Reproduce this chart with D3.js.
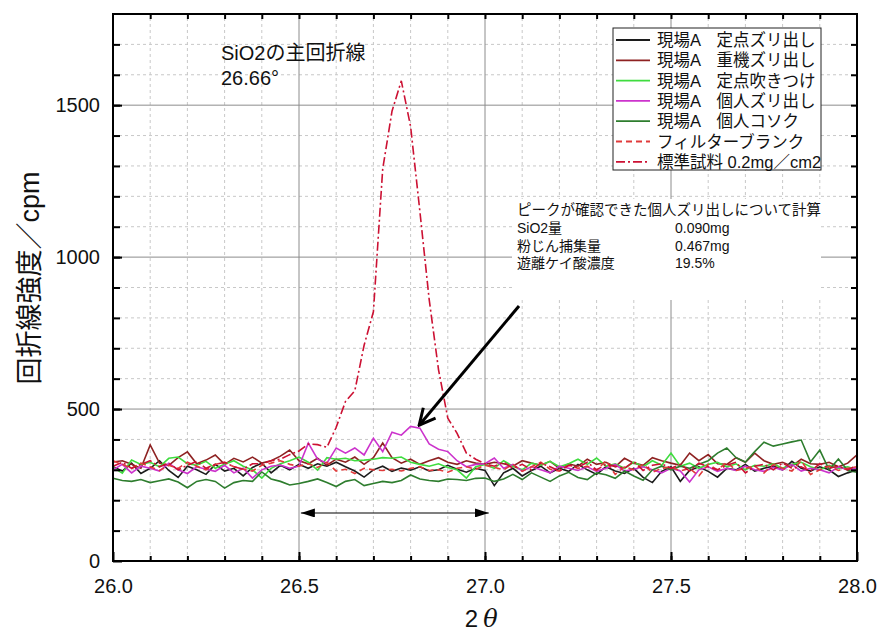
<!DOCTYPE html>
<html>
<head>
<meta charset="utf-8">
<script src="https://cdn.jsdelivr.net/npm/d3@7"></script>
<style>
    body { margin: 0; background: #fff; }
    text { font-family: "Liberation Sans", "Noto Sans CJK JP", sans-serif; }
</style>
</head>
<body>
<div id="chart"></div>
<script>
// 2θ (deg)
const twoTheta = [
    26.000, 26.025, 26.050, 26.075, 26.100, 26.125, 26.150, 26.175, 26.200, 26.225,
    26.250, 26.275, 26.300, 26.325, 26.350, 26.375, 26.400, 26.425, 26.450, 26.475,
    26.500, 26.525, 26.550, 26.575, 26.600, 26.625, 26.650, 26.675, 26.700, 26.725,
    26.750, 26.775, 26.800, 26.825, 26.850, 26.875, 26.900, 26.925, 26.950, 26.975,
    27.000, 27.025, 27.050, 27.075, 27.100, 27.125, 27.150, 27.175, 27.200, 27.225,
    27.250, 27.275, 27.300, 27.325, 27.350, 27.375, 27.400, 27.425, 27.450, 27.475,
    27.500, 27.525, 27.550, 27.575, 27.600, 27.625, 27.650, 27.675, 27.700, 27.725,
    27.750, 27.775, 27.800, 27.825, 27.850, 27.875, 27.900, 27.925, 27.950, 27.975,
    28.000
];

// 回折線強度 (cpm)
const teitenZuri = [
    310, 296, 322, 288, 305, 330, 298, 275, 312, 300,
    285, 318, 296, 305, 280, 308, 322, 290, 315, 300,
    318, 305, 320, 312, 325, 310, 296, 276, 300, 312,
    295, 306, 299, 310, 296, 300, 315, 302, 292, 305,
    298, 248, 290, 305, 280, 298, 312, 290, 305, 295,
    318, 300, 285, 310, 296, 288, 305, 275, 258, 295,
    310, 262, 298, 310, 295, 276, 305, 300, 318, 296,
    305, 312, 300, 328, 305, 296, 310, 300, 278, 290,
    300
];
const juukiZuri = [
    326, 330, 318, 305, 382, 322, 315, 340, 359, 320,
    332, 349, 318, 338, 326, 342, 322, 330, 345, 365,
    330, 320, 338, 315, 335, 325, 342, 318, 340, 388,
    340, 322, 335, 318, 330, 340, 325, 318, 330, 322,
    318, 325, 320, 312, 330, 322, 315, 328, 305, 320,
    312, 335, 318, 325, 310, 338, 322, 315, 340, 330,
    322, 315, 355, 330, 350, 320, 318, 340, 325, 355,
    330, 318, 325, 312, 335, 320, 318, 325, 310, 322,
    349
];
const teitenFuki = [
    309, 289, 332, 318, 325, 310, 338, 342, 320, 315,
    328, 305, 318, 330, 312, 300, 273, 305, 320, 330,
    342, 325, 299, 340, 335, 338, 330, 332, 335, 340,
    338, 342, 325, 318, 312, 320, 308, 300, 273, 310,
    318, 305, 330, 312, 300, 322, 315, 328, 310, 320,
    335, 318, 339, 312, 320, 305, 325, 310, 330, 315,
    355, 312, 322, 305, 318, 325, 310, 320, 300, 315,
    312, 320, 305, 318, 325, 310, 300, 315, 305, 310,
    300
];
const kojinZuri = [
    300, 318, 290, 312, 305, 296, 322, 300, 288, 310,
    302, 295, 315, 290, 305, 273, 300, 312, 316, 305,
    312, 388, 335, 322, 372, 355, 372, 349, 404, 360,
    424, 414, 443, 437, 385, 368, 360, 330, 310, 318,
    320, 339, 305, 318, 296, 310, 300, 290, 312, 305,
    298, 310, 295, 305, 318, 296, 302, 310, 300, 290,
    305, 296, 260, 300, 310, 295, 305, 298, 312, 300,
    295, 308, 300, 318, 296, 305, 300, 290, 310, 300,
    305
];
const kojinKosoku = [
    272, 265, 262, 268, 258, 264, 270, 260, 241, 262,
    268, 262, 240, 258, 265, 262, 293, 270, 262, 250,
    255, 262, 270, 258, 245, 262, 268, 248, 255, 262,
    258, 265, 283, 270, 265, 262, 270, 268, 265, 272,
    273, 262, 270, 285, 268, 290, 276, 262, 280, 292,
    275, 268, 290, 284, 272, 296, 280, 266, 300, 312,
    300, 312, 305, 318, 330, 355, 372, 340, 326, 360,
    391, 378, 385, 392, 398, 326, 365, 300, 336, 298,
    292
];
const filterBlank = [
    330, 318, 305, 322, 310, 298, 315, 305, 325, 312,
    300, 318, 325, 310, 302, 296, 315, 322, 330, 318,
    312, 320, 308, 325, 296, 302, 288, 305, 300, 298,
    302, 296, 305, 310, 298, 300, 292, 305, 310, 302,
    315, 308, 300, 318, 295, 310, 325, 302, 296, 315,
    305, 312, 298, 330, 285, 310, 300, 318, 292, 305,
    310, 296, 305, 280, 318, 300, 325, 298, 305, 312,
    290, 318, 305, 296, 330, 285, 300, 312, 298, 305,
    310
];
const hyoujun = [
    312, 325, 305, 318, 330, 310, 322, 300, 315, 328,
    305, 318, 325, 310, 302, 320, 320, 330, 335, 350,
    362, 385, 383, 374, 440, 525, 560, 710, 820, 1290,
    1480, 1580, 1430, 1150, 860, 630, 470, 420, 355, 335,
    320, 312, 325, 305, 318, 300, 322, 310, 296, 315,
    308, 325, 300, 318, 312, 305, 328, 298, 315, 320,
    305, 318, 296, 322, 310, 300, 315, 325, 290, 312,
    318, 300, 322, 305, 310, 296, 320, 305, 312, 300,
    315
];

const seriesNames = [
    "現場A　定点ズリ出し", "現場A　重機ズリ出し", "現場A　定点吹きつけ",
    "現場A　個人ズリ出し", "現場A　個人コソク", "フィルターブランク", "標準試料 0.2mg／cm2"
];
const seriesValues = [teitenZuri, juukiZuri, teitenFuki, kojinZuri, kojinKosoku, filterBlank, hyoujun];
const seriesColors = ["#1c1c1c", "#8e2222", "#3fdc3f", "#cc33cc", "#2e7d2e", "#e03a3a", "#cc1133"];
const seriesDash = [null, null, null, null, null, "6,4", "9,3,2,3"];

const xTicks = [26.0, 26.5, 27.0, 27.5, 28.0];
const yTicks = [0, 500, 1000, 1500];

const noteLines = [
    ["SiO2量", "0.090mg"],
    ["粉じん捕集量", "0.467mg"],
    ["遊離ケイ酸濃度", "19.5%"]
];

// Chart size
const Width = 878, Height = 635;
const margin = { Top: 14, Right: 21, Bottom: 74, Left: 113 };

const svg = d3.select("#chart").append("svg")
    .attr("width", Width)
    .attr("height", Height);

const xScale = d3.scaleLinear().domain([26, 28]).range([margin.Left, Width - margin.Right]);
const yScale = d3.scaleLinear().domain([0, 1800]).range([Height - margin.Bottom, margin.Top]);

const x0 = margin.Left, x1 = Width - margin.Right;
const y0 = Height - margin.Bottom, y1 = margin.Top;

// minor grid (dashed)
const xMinor = d3.range(26.1, 28, 0.1).filter(v => Math.abs(v * 2 - Math.round(v * 2)) > 0.01);
const yMinor = d3.range(100, 1800, 100).filter(v => v % 500 !== 0);
svg.append("g").selectAll("line").data(xMinor).join("line")
    .attr("x1", d => xScale(d)).attr("x2", d => xScale(d))
    .attr("y1", y0).attr("y2", y1)
    .attr("stroke", "#c8c8c8").attr("stroke-dasharray", "3,3");
svg.append("g").selectAll("line").data(yMinor).join("line")
    .attr("x1", x0).attr("x2", x1)
    .attr("y1", d => yScale(d)).attr("y2", d => yScale(d))
    .attr("stroke", "#c8c8c8").attr("stroke-dasharray", "3,3");

// major grid (solid)
svg.append("g").selectAll("line").data([26.5, 27.0, 27.5]).join("line")
    .attr("x1", d => xScale(d)).attr("x2", d => xScale(d))
    .attr("y1", y0).attr("y2", y1)
    .attr("stroke", "#8c8c8c");
svg.append("g").selectAll("line").data([500, 1000, 1500]).join("line")
    .attr("x1", x0).attr("x2", x1)
    .attr("y1", d => yScale(d)).attr("y2", d => yScale(d))
    .attr("stroke", "#8c8c8c");

// note box (white, hides grid)
svg.append("rect")
    .attr("x", 512).attr("y", 199).attr("width", 309).attr("height", 101)
    .attr("fill", "#fff");

// data lines
const line = d3.line()
    .x((d, i) => xScale(twoTheta[i]))
    .y(d => yScale(d));
svg.append("g").selectAll("path").data(seriesValues).join("path")
    .attr("d", d => line(d))
    .attr("fill", "none")
    .attr("stroke", (d, i) => seriesColors[i])
    .attr("stroke-width", 1.6)
    .attr("stroke-dasharray", (d, i) => seriesDash[i]);

// axes: ticks point inward
function styleAxis(g) {
    g.select(".domain").remove();
    g.selectAll(".tick line").attr("stroke", "#000").attr("stroke-width", 2);
    g.selectAll("text").attr("font-size", 20).attr("fill", "#111")
        .attr("font-family", "Liberation Sans, Noto Sans CJK JP, sans-serif");
}
const xMinorAll = d3.range(26.1, 28, 0.1);
svg.append("g").attr("transform", `translate(0,${y0})`)
    .call(d3.axisBottom(xScale).tickValues(xMinorAll).tickSize(-5).tickFormat(""))
    .call(styleAxis);
svg.append("g").attr("transform", `translate(0,${y0})`)
    .call(d3.axisBottom(xScale).tickValues(xTicks).tickSize(-9).tickPadding(18).tickFormat(d3.format(".1f")))
    .call(styleAxis);
svg.append("g").attr("transform", `translate(0,${y1})`)
    .call(d3.axisTop(xScale).tickValues(xMinorAll).tickSize(-5).tickFormat(""))
    .call(styleAxis);

const yMinorAll = d3.range(100, 1800, 100);
svg.append("g").attr("transform", `translate(${x0},0)`)
    .call(d3.axisLeft(yScale).tickValues(yMinorAll).tickSize(-7).tickFormat(""))
    .call(styleAxis);
svg.append("g").attr("transform", `translate(${x0},0)`)
    .call(d3.axisLeft(yScale).tickValues(yTicks).tickSize(-9).tickPadding(13).tickFormat(d3.format("d")))
    .call(styleAxis);
svg.append("g").attr("transform", `translate(${x1},0)`)
    .call(d3.axisRight(yScale).tickValues(yMinorAll).tickSize(-6).tickFormat(""))
    .call(styleAxis);

// frame
svg.append("rect")
    .attr("x", x0).attr("y", y1).attr("width", x1 - x0).attr("height", y0 - y1)
    .attr("fill", "none").attr("stroke", "#000").attr("stroke-width", 2);

// axis titles
svg.append("text")
    .attr("x", xScale(26.99)).attr("y", 627)
    .attr("text-anchor", "middle").attr("font-size", 24).attr("fill", "#111")
    .text("2")
    .append("tspan").attr("dx", 5).attr("font-style", "italic").attr("font-family", "DejaVu Serif, serif").text("θ");
svg.append("text")
    .attr("transform", "translate(39,278) rotate(-90)")
    .attr("text-anchor", "middle").attr("font-size", 27).attr("fill", "#111")
    .text("回折線強度／cpm");

// peak annotation
svg.append("text").attr("x", 221).attr("y", 60).attr("font-size", 20).attr("fill", "#111").text("SiO2の主回折線");
svg.append("text").attr("x", 221).attr("y", 85).attr("font-size", 20).attr("fill", "#111").text("26.66°");

// calc note
svg.append("text").attr("x", 517).attr("y", 215).attr("font-size", 14.5).attr("fill", "#111")
    .text("ピークが確認できた個人ズリ出しについて計算");
noteLines.forEach((r, i) => {
    svg.append("text").attr("x", 517).attr("y", 233 + i * 17.5).attr("font-size", 14).attr("fill", "#111").text(r[0]);
    svg.append("text").attr("x", 675).attr("y", 233 + i * 17.5).attr("font-size", 14).attr("fill", "#111").text(r[1]);
});

// arrows
const defs = svg.append("defs");
defs.append("marker").attr("id", "tri").attr("viewBox", "0 0 14 9")
    .attr("refX", 14).attr("refY", 4.5).attr("markerWidth", 14).attr("markerHeight", 9)
    .attr("markerUnits", "userSpaceOnUse").attr("orient", "auto-start-reverse")
    .append("path").attr("d", "M0,0L14,4.5L0,9Z").attr("fill", "#000");
defs.append("marker").attr("id", "vee").attr("viewBox", "0 0 20 20")
    .attr("refX", 18).attr("refY", 10).attr("markerWidth", 20).attr("markerHeight", 20)
    .attr("markerUnits", "userSpaceOnUse").attr("orient", "auto")
    .append("path").attr("d", "M2,2L18,10L2,18").attr("fill", "none").attr("stroke", "#000").attr("stroke-width", 3);

svg.append("line")
    .attr("x1", xScale(26.505)).attr("x2", xScale(27.01))
    .attr("y1", yScale(158)).attr("y2", yScale(158))
    .attr("stroke", "#000").attr("stroke-width", 1.2)
    .attr("marker-start", "url(#tri)").attr("marker-end", "url(#tri)");
svg.append("line")
    .attr("x1", 519).attr("y1", 306).attr("x2", xScale(26.823)).attr("y2", yScale(447))
    .attr("stroke", "#000").attr("stroke-width", 3)
    .attr("marker-end", "url(#vee)");

// legend
const lg = svg.append("g").attr("transform", "translate(613,28)");
lg.append("rect").attr("width", 208).attr("height", 142)
    .attr("fill", "#fff").attr("stroke", "#222").attr("stroke-width", 1);
seriesNames.forEach((name, i) => {
    const cy = 12 + i * 20.3;
    lg.append("line").attr("x1", 3).attr("x2", 37).attr("y1", cy).attr("y2", cy)
        .attr("stroke", seriesColors[i]).attr("stroke-width", 1.8)
        .attr("stroke-dasharray", seriesDash[i]);
    lg.append("text").attr("x", 44).attr("y", cy + 6).attr("font-size", 16.5).attr("fill", "#111").text(name);
});
</script>
</body>
</html>
